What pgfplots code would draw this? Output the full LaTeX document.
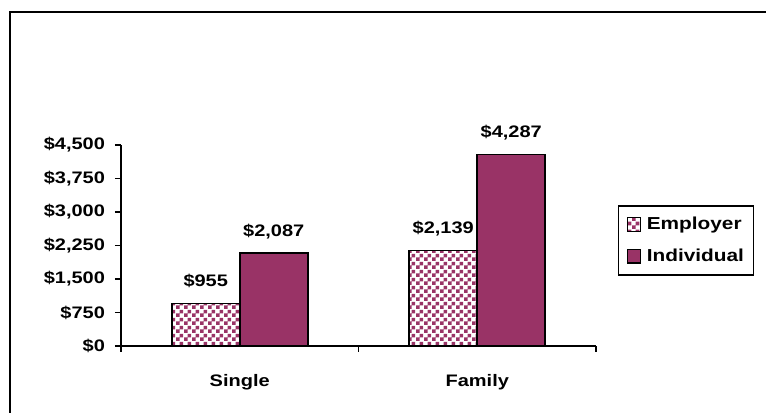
\documentclass[border=0pt]{standalone}
\usepackage{fontspec}
\setmainfont{Liberation Sans}[FakeStretch=1.2]
\usepackage{pgfplots}
\pgfplotsset{compat=1.18}
\usetikzlibrary{patterns}
\definecolor{plum}{HTML}{993366}
\pgfdeclarepatternformonly{mycheck}{\pgfqpoint{0pt}{0pt}}{\pgfqpoint{6pt}{6pt}}{\pgfqpoint{6pt}{6pt}}{%
  \pgfpathrectangle{\pgfqpoint{0pt}{0pt}}{\pgfqpoint{3pt}{3pt}}%
  \pgfpathrectangle{\pgfqpoint{3pt}{3pt}}{\pgfqpoint{3pt}{3pt}}%
  \pgfusepath{fill}}
\newcommand\lbl{\bfseries\fontsize{12.5}{14}\selectfont}
\newcommand\leglbl{\bfseries\fontsize{13}{14}\selectfont}
\begin{document}
\begin{tikzpicture}[x=1pt,y=1pt]
\useasboundingbox (0,0) rectangle (574.5,309.75);
\fill[white] (0,0) rectangle (574.5,309.75);
\draw[line width=1.5pt] (7.2,-5) -- (7.2,300.5) -- (580,300.5);
\begin{axis}[
  at={(90.75pt,50.25pt)}, anchor=south west, scale only axis,
  width=356.25pt, height=150.75pt,
  ymin=0, ymax=4500, xmin=-0.5, xmax=1.5,
  axis lines=left, axis line style={-, line width=0.9pt},
  ytick={0,750,...,4500}, scaled y ticks=false,
  /pgf/number format/fixed, /pgf/number format/1000 sep={,},
  /pgf/number format/assume math mode=true,
  yticklabel={\$\pgfmathprintnumber{\tick}},
  xtick={0,1}, xticklabels={Single,Family},
  major x tick style={draw=none},
  minor xtick={-0.5,0.5,1.5},
  tick align=outside, major tick length=4.5pt, minor tick length=4.5pt,
  tick style={black, line width=0.9pt},
  ticklabel style={font=\lbl},
  yticklabel style={xshift=-4pt},
  xticklabel style={yshift=-13pt},
  ybar=0pt, bar width=51pt,
  nodes near coords={\$\pgfmathprintnumber{\pgfplotspointmeta}},
  nodes near coords style={font=\lbl, anchor=base, yshift=12.5pt},
  legend style={at={(1.046,0.701)}, anchor=north west, draw=black, line width=1.1pt,
    font=\leglbl, row sep=9pt, inner xsep=5pt, inner ysep=6.5pt},
  legend cell align=left,
  area legend,
]
\addplot[draw=black, line width=1.2pt, pattern=mycheck, pattern color=plum,
  legend image code/.code={\path (-1pt,0) (12pt,0);
    \draw[black, line width=0.9pt, pattern=mycheck, pattern color=plum] (0pt,-5pt) rectangle (10pt,5pt);}]
  coordinates {(0,955) (1,2139)};
\addplot[draw=black, line width=1.2pt, fill=plum,
  legend image code/.code={\path (-1pt,0) (12pt,0);
    \draw[black, line width=0.9pt, fill=plum] (0pt,-5pt) rectangle (10pt,5pt);}]
  coordinates {(0,2087) (1,4287)};
\legend{Employer,Individual}
\end{axis}
\end{tikzpicture}
\end{document}
